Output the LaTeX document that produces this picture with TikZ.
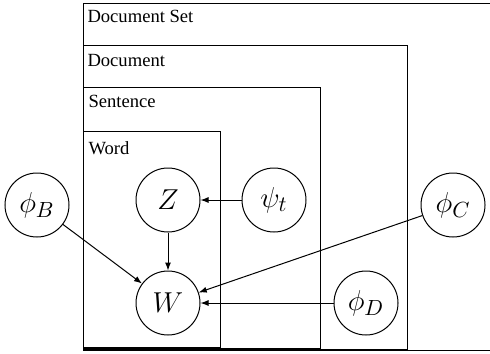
\documentclass[tikz,border=0pt]{standalone}
\usepackage{fontspec}
\setmainfont{Liberation Serif}
\usetikzlibrary{arrows.meta, positioning}

\begin{document}
\begin{tikzpicture}[x=0.5pt, y=-0.5pt, line width=0.5pt,
    var/.style={draw, circle, minimum size=32pt, inner sep=0pt, font=\fontsize{15}{18}\selectfont},
    platelabel/.style={anchor=base west, inner sep=0pt, font=\fontsize{9.3}{11}\selectfont},
    edge/.style={-{Latex[length=4pt,width=3pt]}}]

    \useasboundingbox (0,0) rectangle (490,353);

    % Plates
    \draw (492,4) -- (83,4) -- (83,350.5) -- (492,350.5); % Document Set
    \draw (83,46) rectangle (407,349.5); % Document
    \draw (83,87) rectangle (320,348.5); % Sentence
    \draw (83,131) rectangle (220,348); % Word
    \draw[line width=1.5pt] (83,348.5) -- (220,348.5);

    \node[platelabel] (lset) at (87,22.5) {Document Set};
    \node[platelabel] (ldoc) at (87,66.5) {Document};
    \node[platelabel] (lsen) at (88,107) {Sentence};
    \node[platelabel] (lword) at (88,154.5) {Word};

    % Variables
    \node[var] (phiB) at (37,205) {$\phi_B$};
    \node[var] (Z) at (168,200) {$Z$};
    \node[var] (psi) at (274,200) {$\psi_t$};
    \node[var] (phiC) at (453,205) {$\phi_C$};
    \node[var] (W) at (168,303) {$W$};
    \node[var] (phiD) at (366,303) {$\phi_D$};

    % Edges
    \draw[edge] (psi) -- (Z);
    \draw[edge] (Z) -- (W);
    \draw[edge] (phiB) -- (W);
    \draw[edge] (phiC) -- (W);
    \draw[edge] (phiD) -- (W);

\end{tikzpicture}
\end{document}
